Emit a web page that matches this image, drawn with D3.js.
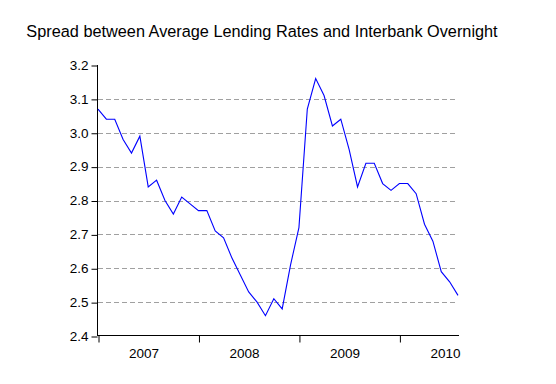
<!DOCTYPE html>
<html>
<head>
<meta charset="utf-8">
<script src="https://cdn.jsdelivr.net/npm/d3@7"></script>
<style>
  body { margin: 0; background: #fff; }
  svg { display: block; font-family: "Liberation Sans", Arial, sans-serif; }
</style>
</head>
<body>
<div class="chart"></div>
<script>
// monthly spread, Jan 2007 .. Aug 2010
const years = ["2007", "2008", "2009", "2010"];
const spread = [
  3.07, 3.04, 3.04, 2.98, 2.94, 2.99, 2.84, 2.86, 2.80, 2.76, 2.81, 2.79,
  2.77, 2.77, 2.71, 2.69, 2.63, 2.58, 2.53, 2.50, 2.46, 2.51, 2.48, 2.61,
  2.72, 3.07, 3.16, 3.11, 3.02, 3.04, 2.95, 2.84, 2.91, 2.91, 2.85, 2.83,
  2.85, 2.85, 2.82, 2.73, 2.68, 2.59, 2.56, 2.52
];
const yTicks = [2.4, 2.5, 2.6, 2.7, 2.8, 2.9, 3.0, 3.1, 3.2];
const gridTicks = [2.5, 2.6, 2.7, 2.8, 2.9, 3.0, 3.1];

const svg = d3.select(".chart").append("svg").attr("width", 556).attr("height", 384);

const x = d3.scaleLinear().domain([0, spread.length - 1]).range([98, 458]);
const y = d3.scaleLinear().domain([2.4, 3.2]).range([336, 65]);

// title
svg.append("text")
  .attr("x", 262)
  .attr("y", 37)
  .attr("text-anchor", "middle")
  .style("font-size", "16.3px")
  .text("Spread between Average Lending Rates and Interbank Overnight");

// grid
svg.append("g")
  .selectAll("line")
  .data(gridTicks)
  .join("line")
  .attr("x1", x(0))
  .attr("x2", x(spread.length - 1))
  .attr("y1", d => Math.round(y(d)) + 0.5)
  .attr("y2", d => Math.round(y(d)) + 0.5)
  .attr("stroke", "#a0a0a0")
  .attr("stroke-dasharray", "5,3");

// y axis
const yAxis = svg.append("g")
  .attr("transform", "translate(97.5,0)")
  .call(d3.axisLeft(y).tickValues(yTicks).tickFormat(d3.format(".1f")).tickSize(6).tickPadding(3));
yAxis.select(".domain").attr("d", `M0,${y(3.2)}V${y(2.4)}`);
yAxis.selectAll("text").style("font-size", "13.5px").attr("fill", "#000");
yAxis.selectAll("line").attr("transform", "translate(0,0.5)");

// x axis
const xAxis = svg.append("g")
  .attr("transform", "translate(0,335.5)")
  .call(d3.axisBottom(x).tickValues([0, 12, 24, 36]).tickFormat("").tickSize(7).tickSizeOuter(0));
xAxis.select(".domain").attr("d", `M${x(0) - 1},0H${x(spread.length - 1) + 1}`);
xAxis.selectAll(".tick line").attr("transform", "translate(0.5,0)");

svg.append("g")
  .selectAll("text")
  .data(years)
  .join("text")
  .attr("x", (d, i) => x(i * 12 + 5.5))
  .attr("y", 357.5)
  .attr("text-anchor", "middle")
  .style("font-size", "13.5px")
  .text(d => d);

// series
const line = d3.line().x((d, i) => x(i)).y(d => y(d));
svg.append("path")
  .datum(spread)
  .attr("d", line)
  .attr("fill", "none")
  .attr("stroke", "#0000ff")
  .attr("stroke-width", 1.1);
</script>
</body>
</html>
